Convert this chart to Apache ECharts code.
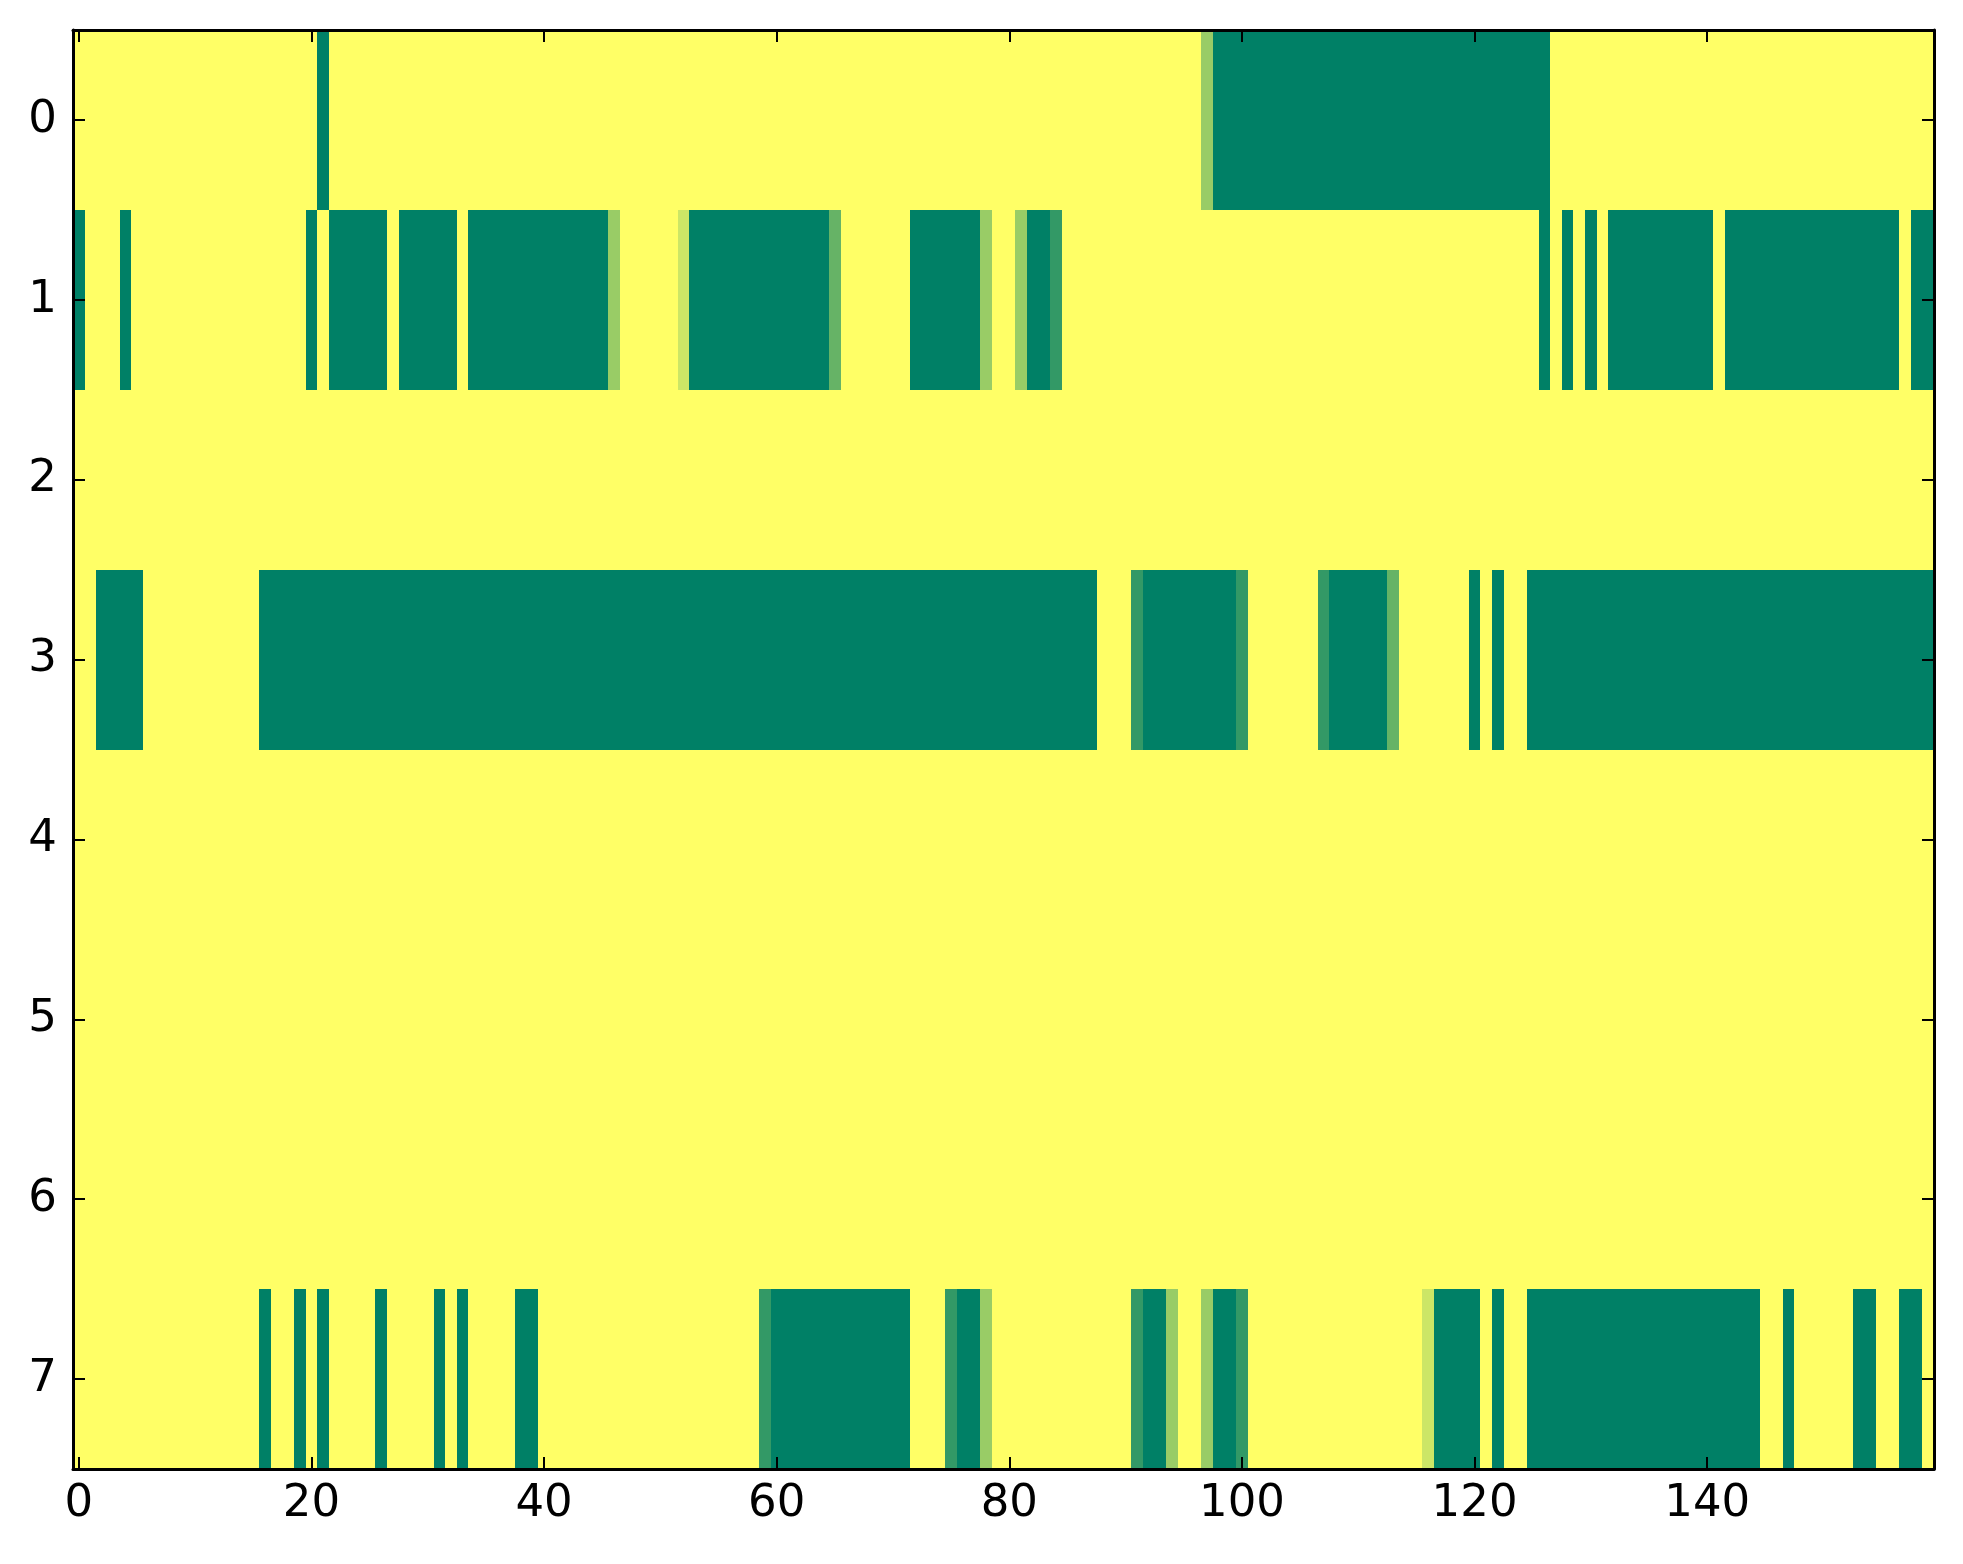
<!DOCTYPE html>
<html>
<head>
<meta charset="utf-8">
<script src="https://cdn.jsdelivr.net/npm/echarts@6/dist/echarts.min.js"></script>
<style>
html,body{margin:0;padding:0;background:#fff;}
#chart{width:1963px;height:1564px;}
</style>
</head>
<body>
<div id="chart"></div>
<script>
// Column indices (0..159) and row indices (0..7)
const xCategories = Array.from({length: 160}, (_, i) => String(i));
const yCategories = ['0', '1', '2', '3', '4', '5', '6', '7'];
const xTickLabels = ['0', '20', '40', '60', '80', '100', '120', '140'];

// Cell values, one array per row (160 values each)
const row0 = [
  1,1,1,1,1,1,1,1,1,1,1,1,1,1,1,1,1,1,1,1,
  1,0,1,1,1,1,1,1,1,1,1,1,1,1,1,1,1,1,1,1,
  1,1,1,1,1,1,1,1,1,1,1,1,1,1,1,1,1,1,1,1,
  1,1,1,1,1,1,1,1,1,1,1,1,1,1,1,1,1,1,1,1,
  1,1,1,1,1,1,1,1,1,1,1,1,1,1,1,1,1,0.6,0,0,
  0,0,0,0,0,0,0,0,0,0,0,0,0,0,0,0,0,0,0,0,
  0,0,0,0,0,0,0,1,1,1,1,1,1,1,1,1,1,1,1,1,
  1,1,1,1,1,1,1,1,1,1,1,1,1,1,1,1,1,1,1,1
];
const row1 = [
  0,1,1,1,0,1,1,1,1,1,1,1,1,1,1,1,1,1,1,1,
  0,1,0,0,0,0,0,1,0,0,0,0,0,1,0,0,0,0,0,0,
  0,0,0,0,0,0,0.6,1,1,1,1,1,0.8,0,0,0,0,0,0,0,
  0,0,0,0,0,0.4,1,1,1,1,1,1,0,0,0,0,0,0,0.6,1,
  1,0.6,0,0,0.2,1,1,1,1,1,1,1,1,1,1,1,1,1,1,1,
  1,1,1,1,1,1,1,1,1,1,1,1,1,1,1,1,1,1,1,1,
  1,1,1,1,1,1,0,1,0,1,0,1,0,0,0,0,0,0,0,0,
  0,1,0,0,0,0,0,0,0,0,0,0,0,0,0,0,0,1,0,0
];
const row2 = [
  1,1,1,1,1,1,1,1,1,1,1,1,1,1,1,1,1,1,1,1,
  1,1,1,1,1,1,1,1,1,1,1,1,1,1,1,1,1,1,1,1,
  1,1,1,1,1,1,1,1,1,1,1,1,1,1,1,1,1,1,1,1,
  1,1,1,1,1,1,1,1,1,1,1,1,1,1,1,1,1,1,1,1,
  1,1,1,1,1,1,1,1,1,1,1,1,1,1,1,1,1,1,1,1,
  1,1,1,1,1,1,1,1,1,1,1,1,1,1,1,1,1,1,1,1,
  1,1,1,1,1,1,1,1,1,1,1,1,1,1,1,1,1,1,1,1,
  1,1,1,1,1,1,1,1,1,1,1,1,1,1,1,1,1,1,1,1
];
const row3 = [
  1,1,0,0,0,0,1,1,1,1,1,1,1,1,1,1,0,0,0,0,
  0,0,0,0,0,0,0,0,0,0,0,0,0,0,0,0,0,0,0,0,
  0,0,0,0,0,0,0,0,0,0,0,0,0,0,0,0,0,0,0,0,
  0,0,0,0,0,0,0,0,0,0,0,0,0,0,0,0,0,0,0,0,
  0,0,0,0,0,0,0,0,1,1,1,0.2,0,0,0,0,0,0,0,0,
  0.2,1,1,1,1,1,1,0.2,0,0,0,0,0,0.4,1,1,1,1,1,1,
  0,1,0,1,1,0,0,0,0,0,0,0,0,0,0,0,0,0,0,0,
  0,0,0,0,0,0,0,0,0,0,0,0,0,0,0,0,0,0,0,0
];
const row4 = [
  1,1,1,1,1,1,1,1,1,1,1,1,1,1,1,1,1,1,1,1,
  1,1,1,1,1,1,1,1,1,1,1,1,1,1,1,1,1,1,1,1,
  1,1,1,1,1,1,1,1,1,1,1,1,1,1,1,1,1,1,1,1,
  1,1,1,1,1,1,1,1,1,1,1,1,1,1,1,1,1,1,1,1,
  1,1,1,1,1,1,1,1,1,1,1,1,1,1,1,1,1,1,1,1,
  1,1,1,1,1,1,1,1,1,1,1,1,1,1,1,1,1,1,1,1,
  1,1,1,1,1,1,1,1,1,1,1,1,1,1,1,1,1,1,1,1,
  1,1,1,1,1,1,1,1,1,1,1,1,1,1,1,1,1,1,1,1
];
const row5 = [
  1,1,1,1,1,1,1,1,1,1,1,1,1,1,1,1,1,1,1,1,
  1,1,1,1,1,1,1,1,1,1,1,1,1,1,1,1,1,1,1,1,
  1,1,1,1,1,1,1,1,1,1,1,1,1,1,1,1,1,1,1,1,
  1,1,1,1,1,1,1,1,1,1,1,1,1,1,1,1,1,1,1,1,
  1,1,1,1,1,1,1,1,1,1,1,1,1,1,1,1,1,1,1,1,
  1,1,1,1,1,1,1,1,1,1,1,1,1,1,1,1,1,1,1,1,
  1,1,1,1,1,1,1,1,1,1,1,1,1,1,1,1,1,1,1,1,
  1,1,1,1,1,1,1,1,1,1,1,1,1,1,1,1,1,1,1,1
];
const row6 = [
  1,1,1,1,1,1,1,1,1,1,1,1,1,1,1,1,1,1,1,1,
  1,1,1,1,1,1,1,1,1,1,1,1,1,1,1,1,1,1,1,1,
  1,1,1,1,1,1,1,1,1,1,1,1,1,1,1,1,1,1,1,1,
  1,1,1,1,1,1,1,1,1,1,1,1,1,1,1,1,1,1,1,1,
  1,1,1,1,1,1,1,1,1,1,1,1,1,1,1,1,1,1,1,1,
  1,1,1,1,1,1,1,1,1,1,1,1,1,1,1,1,1,1,1,1,
  1,1,1,1,1,1,1,1,1,1,1,1,1,1,1,1,1,1,1,1,
  1,1,1,1,1,1,1,1,1,1,1,1,1,1,1,1,1,1,1,1
];
const row7 = [
  1,1,1,1,1,1,1,1,1,1,1,1,1,1,1,1,0,1,1,0,
  1,0,1,1,1,1,0,1,1,1,1,0,1,0,1,1,1,1,0,0,
  1,1,1,1,1,1,1,1,1,1,1,1,1,1,1,1,1,1,1,0.2,
  0,0,0,0,0,0,0,0,0,0,0,0,1,1,1,0.2,0,0,0.6,1,
  1,1,1,1,1,1,1,1,1,1,1,0.2,0,0,0.6,1,1,0.6,0,0,
  0.2,1,1,1,1,1,1,1,1,1,1,1,1,1,1,1,0.8,0,0,0,
  0,1,0,1,1,0,0,0,0,0,0,0,0,0,0,0,0,0,0,0,
  0,0,0,0,0,1,1,0,1,1,1,1,1,0,0,1,1,0,0,1
];
const rows = [row0, row1, row2, row3, row4, row5, row6, row7];

// Build cell data [x, y, value]
const cellData = [];
rows.forEach((r, y) => r.forEach((v, x) => cellData.push([x, y, v])));

const FONT = 'DejaVu Sans';
const showTick = (i) => xTickLabels.indexOf(xCategories[i]) !== -1;

const axisLineStyle = { show: true, lineStyle: { color: '#000', width: 3 } };
const tickStyleX = { show: true, inside: true, length: 12, alignWithLabel: true,
  interval: (i) => showTick(i), lineStyle: { color: '#000', width: 2 } };
const tickStyleY = { show: true, inside: true, length: 12, alignWithLabel: true,
  interval: 0, lineStyle: { color: '#000', width: 2 } };

function renderCell(params, api) {
  const c = api.coord([api.value(0), api.value(1)]);
  const s = api.size([1, 1]);
  const x0 = Math.round(c[0] - s[0] / 2), x1 = Math.round(c[0] + s[0] / 2);
  const y0 = Math.round(c[1] - s[1] / 2), y1 = Math.round(c[1] + s[1] / 2);
  return {
    type: 'rect',
    shape: { x: x0, y: y0, width: x1 - x0, height: y1 - y0 },
    style: { fill: api.visual('color'), stroke: null }
  };
}

const chart = echarts.init(document.getElementById('chart'), null, { renderer: 'canvas' });
chart.setOption({
  backgroundColor: '#ffffff',
  animation: false,
  grid: { left: 73, right: 29, top: 30, bottom: 95, containLabel: false },
  xAxis: [
    {
      type: 'category', data: xCategories, position: 'bottom', z: 10,
      axisLine: axisLineStyle, axisTick: tickStyleX,
      axisLabel: { interval: (i) => showTick(i), fontSize: 45, color: '#000', fontFamily: FONT, margin: 13 },
      splitLine: { show: false }, splitArea: { show: false }
    },
    {
      type: 'category', data: xCategories, position: 'top', z: 10,
      axisLine: axisLineStyle, axisTick: tickStyleX,
      axisLabel: { show: false }, splitLine: { show: false }
    }
  ],
  yAxis: [
    {
      type: 'category', data: yCategories, inverse: true, position: 'left', z: 10,
      axisLine: axisLineStyle, axisTick: tickStyleY,
      axisLabel: { fontSize: 45, color: '#000', fontFamily: FONT, margin: 16 },
      splitLine: { show: false }, splitArea: { show: false }
    },
    {
      type: 'category', data: yCategories, inverse: true, position: 'right', z: 10,
      axisLine: axisLineStyle, axisTick: tickStyleY,
      axisLabel: { show: false }, splitLine: { show: false }
    }
  ],
  visualMap: {
    show: false, type: 'continuous', min: 0, max: 1, dimension: 2, seriesIndex: 0,
    inRange: { color: ['#008066', '#ffff66'] }
  },
  series: [{
    type: 'custom', xAxisIndex: 0, yAxisIndex: 0,
    data: cellData, renderItem: renderCell,
    encode: { x: 0, y: 1 },
    emphasis: { disabled: true },
    silent: true
  }]
});
</script>
</body>
</html>
